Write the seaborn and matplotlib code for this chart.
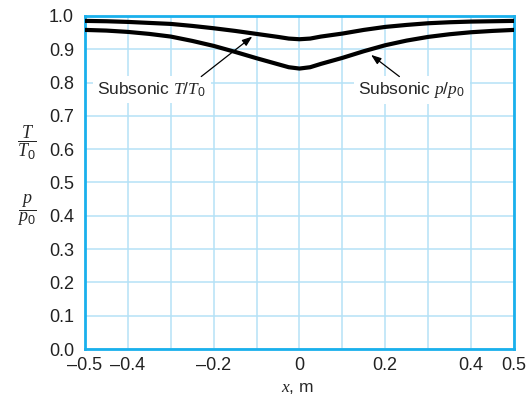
import numpy as np
import pandas as pd
import matplotlib
matplotlib.use('Agg')
import matplotlib.pyplot as plt
import seaborn as sns

# ── Data ──────────────────────────────────────────────────────────────────────
x_pos = [-0.50, -0.45, -0.40, -0.35, -0.30, -0.25, -0.20, -0.15, -0.10, -0.05, -0.025, 0.00,
         0.025, 0.05, 0.10, 0.15, 0.20, 0.25, 0.30, 0.35, 0.40, 0.45, 0.50]
t_ratio = [0.985, 0.984, 0.982, 0.979, 0.976, 0.970, 0.963, 0.955, 0.946, 0.937, 0.932, 0.930,
           0.932, 0.938, 0.947, 0.958, 0.967, 0.973, 0.978, 0.981, 0.983, 0.984, 0.985]
p_ratio = [0.958, 0.956, 0.952, 0.946, 0.938, 0.925, 0.910, 0.892, 0.873, 0.855, 0.846, 0.842,
           0.846, 0.856, 0.874, 0.894, 0.912, 0.926, 0.937, 0.945, 0.951, 0.955, 0.958]

x_ticks = [-0.5, -0.4, -0.2, 0.0, 0.2, 0.4, 0.5]
x_ticklabels = ['–0.5', '–0.4', '–0.2', '0', '0.2', '0.4', '0.5']
y_ticks = [0.0, 0.1, 0.2, 0.3, 0.4, 0.5, 0.6, 0.7, 0.8, 0.9, 1.0]

df = pd.DataFrame({'x': x_pos, 'T': t_ratio, 'p': p_ratio})

# ── Style ─────────────────────────────────────────────────────────────────────
sns.set_style('white')
plt.rcParams['font.family'] = ['Liberation Sans', 'DejaVu Sans']
plt.rcParams['mathtext.fontset'] = 'custom'
plt.rcParams['mathtext.it'] = 'Liberation Serif:italic'
plt.rcParams['mathtext.rm'] = 'Liberation Sans'

SPINE = '#1ab0ec'
GRID = '#b5e2f7'

fig = plt.figure(figsize=(5.26, 3.98), dpi=100)
ax = fig.add_axes([0.1616, 0.123, 0.8154, 0.837])

sns.lineplot(data=df, x='x', y='T', ax=ax, color='black', linewidth=3, zorder=3)
sns.lineplot(data=df, x='x', y='p', ax=ax, color='black', linewidth=3, zorder=3)

ax.set_xlim(-0.5, 0.5)
ax.set_ylim(0.0, 1.0)
ax.set_xticks(np.arange(-0.5, 0.51, 0.1), minor=True)
ax.set_xticks(x_ticks)
ax.set_xticklabels(x_ticklabels)
ax.set_yticks(y_ticks)
ax.set_yticklabels([f'{v:.1f}' for v in y_ticks])
ax.tick_params(axis='both', which='both', length=0, labelsize=13, colors='#222222')
ax.tick_params(axis='y', pad=8)
ax.tick_params(axis='x', pad=6)

ax.grid(True, which='both', color=GRID, linewidth=1.1)
ax.set_axisbelow(True)
for s in ax.spines.values():
    s.set_color(SPINE)
    s.set_linewidth(2)
    s.set_visible(True)

ax.set_xlabel('')
ax.set_ylabel('')
fig.text(0.565, 0.025, r'$x$, m', ha='center', va='center', fontsize=12.5)
fig.text(0.050, 1 - 143 / 398, r'$\dfrac{T}{T_{\mathrm{0}}}$', ha='center', va='center', fontsize=13)
fig.text(0.050, 1 - 210 / 398, r'$\dfrac{p}{p_{\mathrm{0}}}$', ha='center', va='center', fontsize=13)

# ── Annotations ───────────────────────────────────────────────────────────────
box = dict(boxstyle='square,pad=0.25', facecolor='white', edgecolor='none')
ax.text(-0.344, 0.778, r'Subsonic $T/T_{\mathrm{0}}$', ha='center', va='center',
        fontsize=12.5, bbox=box, zorder=4)
ax.text(0.262, 0.778, r'Subsonic $p/p_{\mathrm{0}}$', ha='center', va='center',
        fontsize=12.5, bbox=box, zorder=4)

arrow = dict(arrowstyle='-|>,head_length=0.6,head_width=0.22', color='black',
             lw=0.9, shrinkA=0, shrinkB=0)
ax.annotate('', xy=(-0.110, 0.938), xytext=(-0.229, 0.818), arrowprops=arrow, zorder=5)
ax.annotate('', xy=(0.167, 0.883), xytext=(0.233, 0.818), arrowprops=arrow, zorder=5)

fig.savefig('out.png', dpi=100)
